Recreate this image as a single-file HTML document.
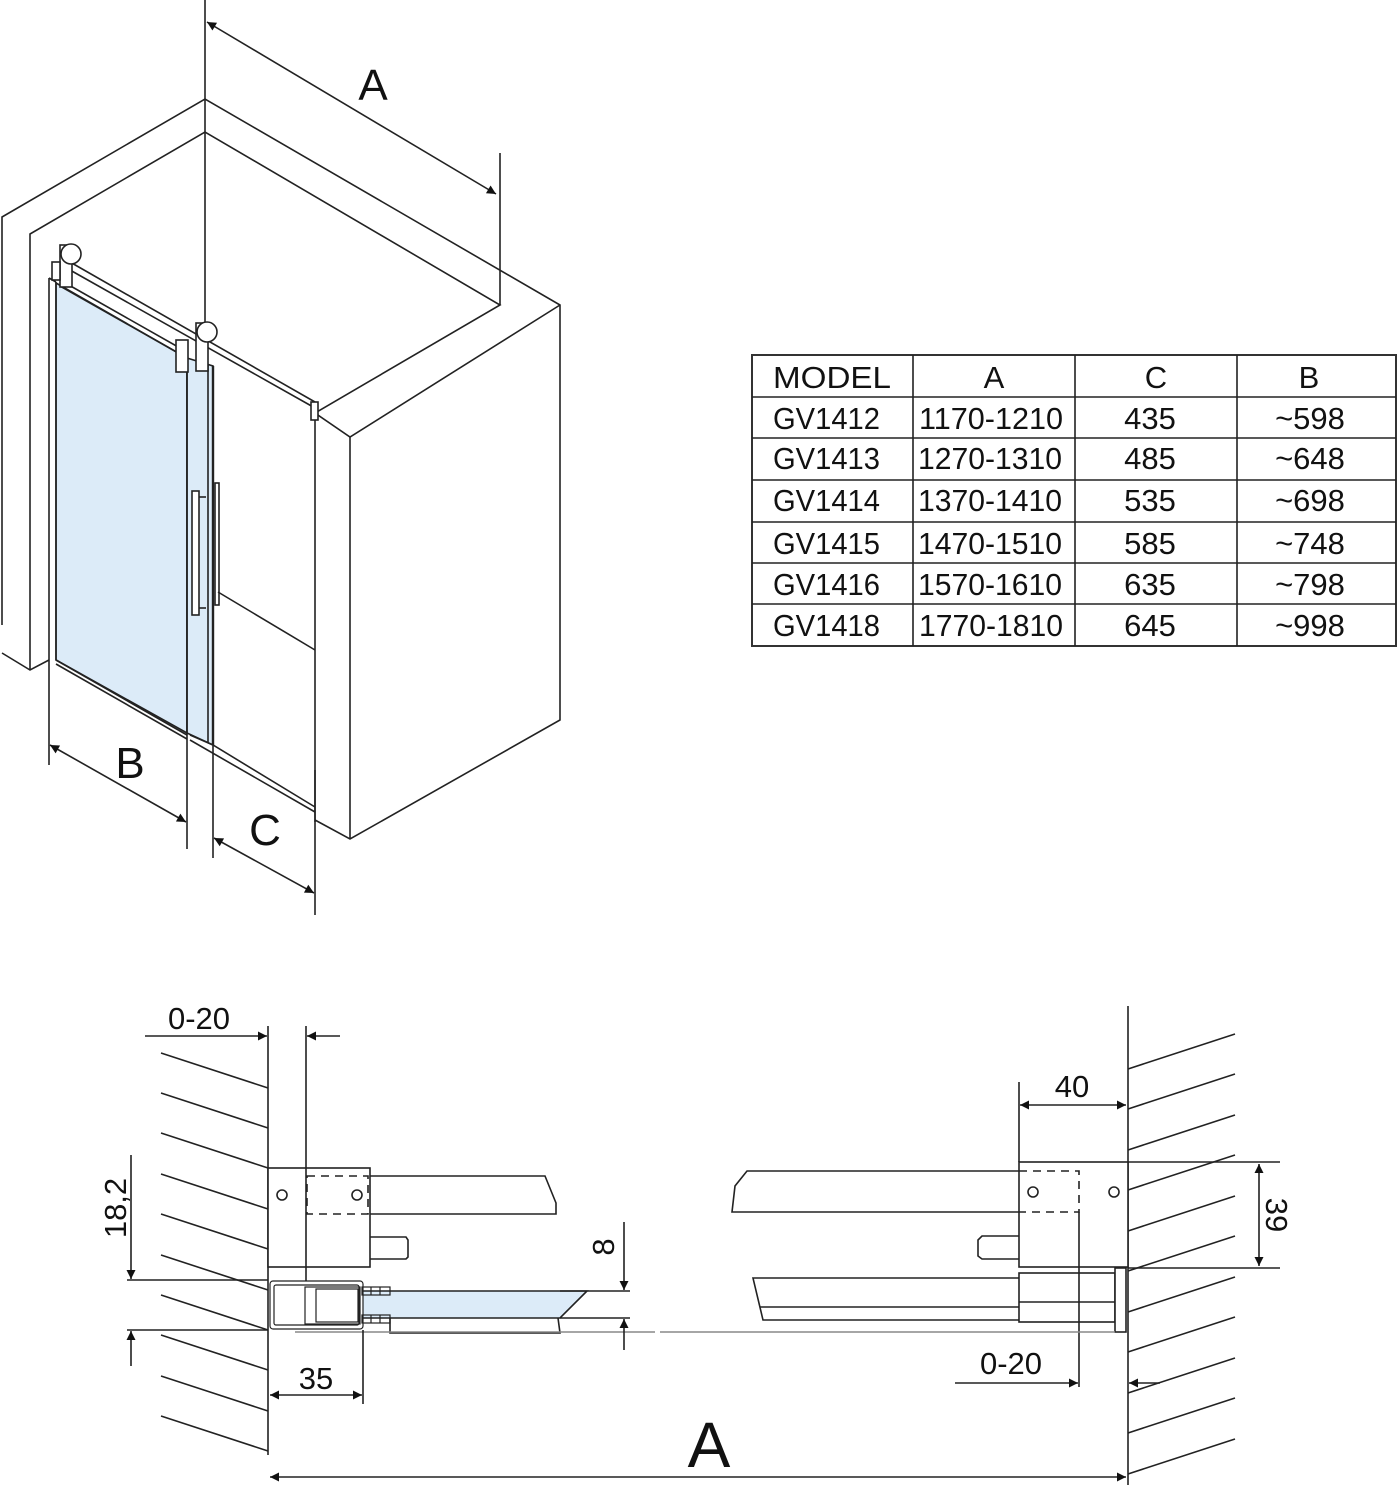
<!DOCTYPE html>
<html><head><meta charset="utf-8"><style>
html,body{margin:0;padding:0;background:#fff;}
svg{display:block;}
text{font-family:"Liberation Sans",sans-serif;fill:#111;}
</style></head><body>
<svg width="1398" height="1492" viewBox="0 0 1398 1492" xmlns="http://www.w3.org/2000/svg">
<defs>
<marker id="ar" viewBox="0 0 10 10" refX="10" refY="5" markerWidth="20" markerHeight="9" markerUnits="userSpaceOnUse" orient="auto-start-reverse"><path d="M0,0 L10,5 L0,10 z" fill="#111"/></marker>
</defs>
<g stroke="#222" stroke-width="1.6" fill="none">
<polyline points="2,625 2,217 205,99 560,305 560,720 350,839 315,820"/>
<polyline points="30,670 30,234 205,132 500,305 315,413 350,437 560,305"/>
<line x1="350" y1="437" x2="350" y2="839"/>
<line x1="315" y1="413" x2="315" y2="822"/>
<polyline points="2,653 30,670 49,660"/>
<line x1="205" y1="0" x2="205" y2="330"/>
<line x1="500" y1="153" x2="500" y2="305"/>
<line x1="207" y1="22" x2="496" y2="194" marker-start="url(#ar)" marker-end="url(#ar)"/>
<polygon points="56,283 187,358 187,733 56,660" fill="#dcebf8"/>
<polygon points="187,358 213,366 213,745 187,733" fill="#dcebf8"/>
<line x1="49" y1="278" x2="49" y2="765"/>
<line x1="56" y1="282" x2="56" y2="660"/>
<line x1="49" y1="278" x2="56" y2="282"/>
<line x1="208" y1="364" x2="208" y2="742"/>
<line x1="213" y1="366" x2="213" y2="745" stroke-width="2.4"/>
<line x1="187" y1="350" x2="187" y2="849"/>
<line x1="213" y1="745" x2="213" y2="858"/>
<line x1="70" y1="262" x2="315" y2="402"/>
<line x1="70" y1="270" x2="315" y2="408"/>
<line x1="60" y1="280" x2="187" y2="352"/>
<line x1="60" y1="286" x2="187" y2="358"/>
<rect x="311" y="402" width="7" height="18" fill="#fff"/>
<rect x="60" y="245" width="12" height="42" fill="#fff"/>
<circle cx="71" cy="254" r="10" fill="#fff"/>
<rect x="52" y="262" width="8" height="18" fill="#fff"/>
<rect x="196" y="323" width="12" height="48" fill="#fff"/>
<circle cx="207" cy="332" r="10" fill="#fff"/>
<rect x="176" y="340" width="12" height="32" fill="#fff"/>
<rect x="192" y="491" width="7" height="124" fill="#fff"/>
<line x1="199" y1="497" x2="206" y2="497"/><line x1="199" y1="608" x2="206" y2="608"/>
<rect x="215" y="483" width="4" height="122" fill="#fff"/>
<line x1="218" y1="592" x2="315" y2="650"/>
<line x1="56" y1="660" x2="187" y2="735"/>
<line x1="56" y1="664" x2="187" y2="739"/>
<polyline points="190,735 213,745 315,807"/>
<line x1="190" y1="740" x2="315" y2="812"/>
<line x1="315" y1="770" x2="315" y2="915"/>
<line x1="50" y1="745" x2="186" y2="822" marker-start="url(#ar)" marker-end="url(#ar)"/>
<line x1="214" y1="838" x2="314" y2="893" marker-start="url(#ar)" marker-end="url(#ar)"/>

<rect x="752" y="355" width="644" height="291" stroke="#333" stroke-width="2"/>
<line x1="913" y1="355" x2="913" y2="646"/><line x1="1075" y1="355" x2="1075" y2="646"/><line x1="1237" y1="355" x2="1237" y2="646"/>
<line x1="752" y1="397" x2="1396" y2="397"/><line x1="752" y1="438" x2="1396" y2="438"/><line x1="752" y1="480" x2="1396" y2="480"/>
<line x1="752" y1="522" x2="1396" y2="522"/><line x1="752" y1="563" x2="1396" y2="563"/><line x1="752" y1="604" x2="1396" y2="604"/>

<line x1="268" y1="1026" x2="268" y2="1455"/>
<line x1="306" y1="1026" x2="306" y2="1285"/>
<line x1="145" y1="1036" x2="267" y2="1036" marker-end="url(#ar)"/>
<line x1="340" y1="1036" x2="307" y2="1036" marker-end="url(#ar)"/>
<g>
<line x1="161" y1="1053" x2="268" y2="1088"/><line x1="161" y1="1093" x2="268" y2="1128"/>
<line x1="161" y1="1133" x2="268" y2="1168"/><line x1="161" y1="1174" x2="268" y2="1209"/>
<line x1="161" y1="1214" x2="268" y2="1249"/><line x1="161" y1="1255" x2="268" y2="1290"/>
<line x1="161" y1="1295" x2="268" y2="1330"/><line x1="161" y1="1335" x2="268" y2="1370"/>
<line x1="161" y1="1376" x2="268" y2="1411"/><line x1="161" y1="1416" x2="268" y2="1451"/>
</g>
<rect x="268" y="1168" width="102" height="99" fill="#fff"/>
<line x1="306" y1="1168" x2="306" y2="1267"/>
<rect x="307" y="1176" width="61" height="38" stroke-dasharray="8,6"/>
<circle cx="282" cy="1195" r="5"/><circle cx="357" cy="1195" r="5"/>
<polyline points="370,1176 545,1176 556,1203 556,1214 370,1214"/>
<polyline points="370,1237 406,1237 408,1240 408,1257 406,1259 370,1259"/>
<line x1="127" y1="1280" x2="268" y2="1280"/>
<line x1="127" y1="1330" x2="268" y2="1330"/>
<line x1="131" y1="1155" x2="131" y2="1279" marker-end="url(#ar)"/>
<line x1="131" y1="1366" x2="131" y2="1331" marker-end="url(#ar)"/>
<polygon points="362,1291 587,1291 560,1318 362,1318" fill="#dcebf8"/>
<polyline points="390,1318 390,1333 560,1333 558,1318"/>
<g stroke-width="1.2">
<rect x="270" y="1281" width="93" height="48" rx="3" fill="#fff"/>
<rect x="274" y="1285" width="85" height="40" rx="2"/>
<rect x="305" y="1287" width="55" height="37"/>
<rect x="316" y="1289" width="42" height="33"/>
<rect x="362" y="1287" width="28" height="8"/><rect x="362" y="1315" width="28" height="8"/>
<line x1="371" y1="1287" x2="371" y2="1295"/><line x1="380" y1="1287" x2="380" y2="1295"/>
<line x1="371" y1="1315" x2="371" y2="1323"/><line x1="380" y1="1315" x2="380" y2="1323"/>
</g>
<line x1="295" y1="1332" x2="655" y2="1332" stroke="#888"/>
<line x1="560" y1="1291" x2="630" y2="1291"/><line x1="560" y1="1318" x2="630" y2="1318"/>
<line x1="624" y1="1222" x2="624" y2="1290" marker-end="url(#ar)"/>
<line x1="624" y1="1350" x2="624" y2="1319" marker-end="url(#ar)"/>
<line x1="363" y1="1330" x2="363" y2="1404"/>
<line x1="270" y1="1395" x2="362" y2="1395" marker-start="url(#ar)" marker-end="url(#ar)"/>
<line x1="270" y1="1477" x2="1126" y2="1477" marker-start="url(#ar)" marker-end="url(#ar)"/>

<line x1="1128" y1="1006" x2="1128" y2="1485"/>
<g>
<line x1="1128" y1="1069" x2="1235" y2="1034"/><line x1="1128" y1="1109" x2="1235" y2="1074"/>
<line x1="1128" y1="1150" x2="1235" y2="1115"/><line x1="1128" y1="1190" x2="1235" y2="1155"/>
<line x1="1128" y1="1231" x2="1235" y2="1196"/><line x1="1128" y1="1271" x2="1235" y2="1236"/>
<line x1="1128" y1="1312" x2="1235" y2="1277"/><line x1="1128" y1="1352" x2="1235" y2="1317"/>
<line x1="1128" y1="1393" x2="1235" y2="1358"/><line x1="1128" y1="1433" x2="1235" y2="1398"/>
<line x1="1128" y1="1474" x2="1235" y2="1439"/>
</g>
<line x1="1019" y1="1082" x2="1019" y2="1162"/>
<line x1="1020" y1="1105" x2="1126" y2="1105" marker-start="url(#ar)" marker-end="url(#ar)"/>
<rect x="1019" y="1162" width="109" height="105" fill="#fff"/>
<line x1="1128" y1="1162" x2="1280" y2="1162"/>
<line x1="1128" y1="1268" x2="1280" y2="1268"/>
<line x1="1259" y1="1164" x2="1259" y2="1266" marker-start="url(#ar)" marker-end="url(#ar)"/>
<polyline points="1019,1171 1079,1171 1079,1212 1019,1212" stroke-dasharray="8,6"/>
<circle cx="1033" cy="1192" r="5"/><circle cx="1114" cy="1192" r="5"/>
<polyline points="1019,1171 747,1171 735,1186 732,1212 1019,1212"/>
<polyline points="1019,1236 982,1236 978,1240 978,1256 982,1259 1019,1259"/>
<polyline points="1019,1278 753,1278 763,1320 1019,1320"/>
<line x1="760" y1="1307" x2="1019" y2="1307"/>
<rect x="1019" y="1273" width="96" height="49" fill="#fff"/>
<line x1="1019" y1="1302" x2="1115" y2="1302"/>
<rect x="1115" y="1268" width="11" height="64" fill="#fff"/>
<line x1="1079" y1="1212" x2="1079" y2="1387"/>
<line x1="660" y1="1332" x2="1115" y2="1332" stroke="#888"/>
<line x1="955" y1="1383" x2="1078" y2="1383" marker-end="url(#ar)"/>
<line x1="1160" y1="1383" x2="1129" y2="1383" marker-end="url(#ar)"/>
</g>

<g font-size="44">
<text x="373" y="100" text-anchor="middle">A</text>
<text x="130" y="778" text-anchor="middle">B</text>
<text x="265" y="845" text-anchor="middle">C</text>
</g>
<g font-size="31">
<text x="773" y="388" textLength="118" lengthAdjust="spacingAndGlyphs">MODEL</text>
<text x="994" y="388" text-anchor="middle">A</text>
<text x="1156" y="388" text-anchor="middle">C</text>
<text x="1309" y="388" text-anchor="middle">B</text>
<text x="773" y="429" textLength="107" lengthAdjust="spacingAndGlyphs">GV1412</text>
<text x="919" y="429" textLength="144" lengthAdjust="spacingAndGlyphs">1170-1210</text>
<text x="1150" y="429" text-anchor="middle">435</text>
<text x="1310" y="429" text-anchor="middle">~598</text>
<text x="773" y="469" textLength="107" lengthAdjust="spacingAndGlyphs">GV1413</text>
<text x="918" y="469" textLength="144" lengthAdjust="spacingAndGlyphs">1270-1310</text>
<text x="1150" y="469" text-anchor="middle">485</text>
<text x="1310" y="469" text-anchor="middle">~648</text>
<text x="773" y="511" textLength="107" lengthAdjust="spacingAndGlyphs">GV1414</text>
<text x="918" y="511" textLength="144" lengthAdjust="spacingAndGlyphs">1370-1410</text>
<text x="1150" y="511" text-anchor="middle">535</text>
<text x="1310" y="511" text-anchor="middle">~698</text>
<text x="773" y="554" textLength="107" lengthAdjust="spacingAndGlyphs">GV1415</text>
<text x="918" y="554" textLength="144" lengthAdjust="spacingAndGlyphs">1470-1510</text>
<text x="1150" y="554" text-anchor="middle">585</text>
<text x="1310" y="554" text-anchor="middle">~748</text>
<text x="773" y="595" textLength="107" lengthAdjust="spacingAndGlyphs">GV1416</text>
<text x="918" y="595" textLength="144" lengthAdjust="spacingAndGlyphs">1570-1610</text>
<text x="1150" y="595" text-anchor="middle">635</text>
<text x="1310" y="595" text-anchor="middle">~798</text>
<text x="773" y="636" textLength="107" lengthAdjust="spacingAndGlyphs">GV1418</text>
<text x="919" y="636" textLength="144" lengthAdjust="spacingAndGlyphs">1770-1810</text>
<text x="1150" y="636" text-anchor="middle">645</text>
<text x="1310" y="636" text-anchor="middle">~998</text>
</g>
<g font-size="31">
<text x="199" y="1029" text-anchor="middle">0-20</text>
<text x="1072" y="1097" text-anchor="middle">40</text>
<text x="316" y="1389" text-anchor="middle">35</text>
<text x="1011" y="1374" text-anchor="middle">0-20</text>
<text transform="translate(126,1208) rotate(-90)" text-anchor="middle">18,2</text>
<text transform="translate(614,1247) rotate(-90)" text-anchor="middle">8</text>
<text transform="translate(1266,1215) rotate(90)" text-anchor="middle">39</text>
</g>
<text x="709" y="1467" font-size="64" text-anchor="middle">A</text>
</svg>
</body></html>
